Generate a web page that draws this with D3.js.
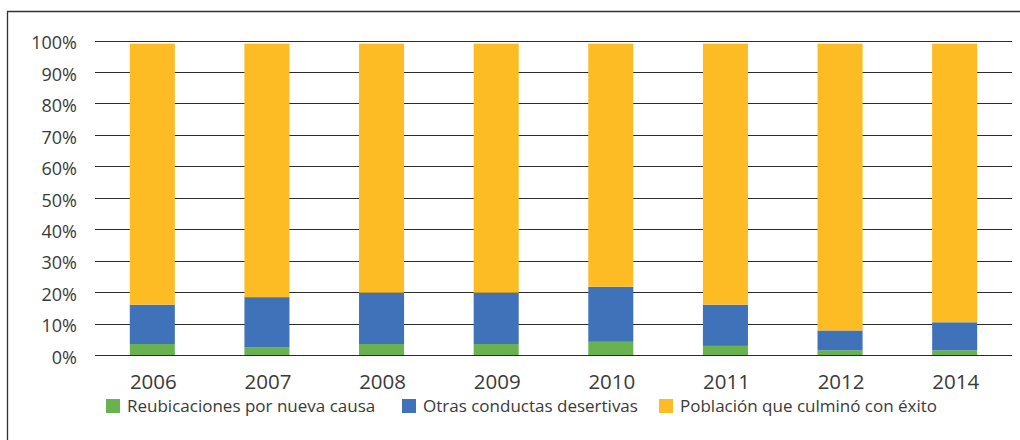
<!DOCTYPE html>
<html><head><meta charset="utf-8">
<script src="https://cdn.jsdelivr.net/npm/d3@7"></script>
<style>body{margin:0;background:#fff}svg{display:block}</style>
</head><body>
<svg id="c" width="1020" height="440"></svg>
<script>
const categories = ["2006","2007","2008","2009","2010","2011","2012","2014"];
const seriesNames = ["Reubicaciones por nueva causa","Otras conductas desertivas","Población que culminó con éxito"];
const reubicaciones = [3.5, 2.5, 3.5, 3.5, 4.2, 2.9, 1.5, 1.5];
const otras = [12.5, 15.9, 16.3, 16.3, 17.5, 13.1, 6.3, 8.9];
const culmino = [83.0, 80.6, 79.2, 79.2, 77.3, 83.0, 91.2, 88.6];
const yTicks = [0,10,20,30,40,50,60,70,80,90,100];
const colors = ["#6ab150","#3f72b8","#fdbc24"];

const svg = d3.select("#c");
const font = "'Open Sans', sans-serif";
const textColor = "#3a3a3a";

// frame
svg.append("path").attr("d","M7.5,441 L7.5,11.5 L1021,11.5")
  .attr("fill","none").attr("stroke","#333").attr("stroke-width",1.3);

const x = d3.scaleBand().domain(categories).range([95,1012]).paddingInner(0.607).paddingOuter(0.3035);
const y = d3.scaleLinear().domain([0,100]).range([355,40.5]);

// gridlines
svg.append("g").selectAll("line").data(yTicks).join("line")
  .attr("x1",95).attr("x2",1012)
  .attr("y1",d=>Math.round(y(d))+0.5).attr("y2",d=>Math.round(y(d))+0.5)
  .attr("stroke","#2b2b2b").attr("stroke-width",1);

// y axis labels
const yAxis = d3.axisLeft(y).tickValues(yTicks).tickFormat(d=>d+"%").tickSize(0).tickPadding(0);
const ga = svg.append("g").attr("transform","translate(77,2)").call(yAxis);
ga.select(".domain").remove();
ga.selectAll("text").attr("font-family",font).attr("font-size",18).attr("fill",textColor).attr("dy","0.35em");

// stacked data
const rows = categories.map((c,i)=>({cat:c, s0:reubicaciones[i], s1:otras[i], s2:culmino[i]}));
const stack = d3.stack().keys(["s0","s1","s2"])(rows);
svg.append("g").selectAll("g").data(stack).join("g")
  .attr("fill",(d,i)=>colors[i])
  .selectAll("rect").data(d=>d).join("rect")
  .attr("x",d=>x(d.data.cat)).attr("width",x.bandwidth())
  .attr("y",d=>y(d[1])).attr("height",d=>y(d[0])-y(d[1]));

// x axis labels
const xAxis = d3.axisBottom(x).tickSize(0).tickPadding(0);
const gx = svg.append("g").attr("transform","translate(1,389)").call(xAxis);
gx.select(".domain").remove();
gx.selectAll("text").attr("font-family",font).attr("font-size",20.5).attr("fill",textColor).attr("dy",0);

// legend
const legendX = [106, 402, 659];
const lg = svg.append("g").selectAll("g").data(seriesNames).join("g")
  .attr("transform",(d,i)=>`translate(${legendX[i]},399)`);
lg.append("rect").attr("width",14).attr("height",14).attr("fill",(d,i)=>colors[i]);
lg.append("text").attr("x",21).attr("y",13).text(d=>d)
  .attr("font-family",font).attr("font-size",17).attr("fill",textColor);
</script>
</body></html>
